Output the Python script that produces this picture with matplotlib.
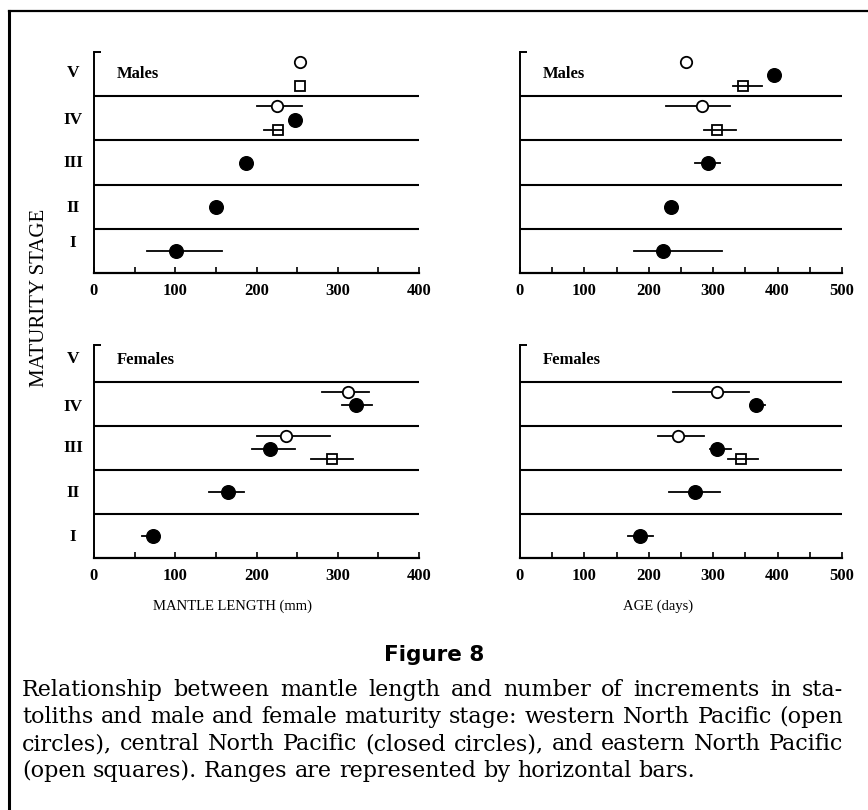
import matplotlib
matplotlib.use("Agg")
import matplotlib.pyplot as plt
from matplotlib.lines import Line2D
from matplotlib.ticker import MultipleLocator, FixedLocator
import matplotlib.transforms as mtransforms

# stages: 1=I ... 5=V ; ranges given as (lo, hi), None where no bar
stage_names = ['I', 'II', 'III', 'IV', 'V']

# mantle length (mm), males
ml_m_west_stage = [5, 4]
ml_m_west_val = [253, 225]
ml_m_west_rng = [None, (200, 256)]
ml_m_cent_stage = [4, 3, 2, 1]
ml_m_cent_val = [247, 187, 150, 101]
ml_m_cent_rng = [None, None, None, (65, 157)]
ml_m_east_stage = [5, 4]
ml_m_east_val = [253, 226]
ml_m_east_rng = [None, (209, 231)]

# age (days), males
age_m_west_stage = [5, 4]
age_m_west_val = [257, 282]
age_m_west_rng = [None, (226, 326)]
age_m_cent_stage = [5, 3, 2, 1]
age_m_cent_val = [394, 292, 234, 222]
age_m_cent_rng = [None, (272, 310), None, (177, 314)]
age_m_east_stage = [5, 4]
age_m_east_val = [347, 306]
age_m_east_rng = [(330, 375), (285, 335)]

# mantle length (mm), females
ml_f_west_stage = [4, 3]
ml_f_west_val = [312, 236]
ml_f_west_rng = [(281, 338), (200, 290)]
ml_f_cent_stage = [4, 3, 2, 1]
ml_f_cent_val = [322, 217, 165, 73]
ml_f_cent_rng = [(305, 342), (195, 247), (141, 185), (59, 77)]
ml_f_east_stage = [3]
ml_f_east_val = [293]
ml_f_east_rng = [(267, 319)]

# age (days), females
age_f_west_stage = [4, 3]
age_f_west_val = [306, 246]
age_f_west_rng = [(238, 356), (215, 285)]
age_f_cent_stage = [4, 3, 2, 1]
age_f_cent_val = [366, 306, 271, 186]
age_f_cent_rng = [(360, 381), (295, 327), (232, 310), (167, 207)]
age_f_east_stage = [3]
age_f_east_val = [343]
age_f_east_rng = [(323, 370)]

caption = [
    "Relationship between mantle length and number of increments in sta-",
    "toliths and male and female maturity stage: western North Pacific (open",
    "circles), central North Pacific (closed circles), and eastern North Pacific",
    "(open squares). Ranges are represented by horizontal bars.",
]

W, H = 868, 810
fig = plt.figure(figsize=(W / 100, H / 100), dpi=100)

serif = 'Liberation Serif'

# outer frame (cropped on right / bottom)
fig.add_artist(Line2D([9 / W, 9 / W], [0, 1 - 11 / H], transform=fig.transFigure,
                      color='black', lw=2.2))
fig.add_artist(Line2D([9 / W, 1], [1 - 11 / H, 1 - 11 / H], transform=fig.transFigure,
                      color='black', lw=1.6))

offsets = {'west': 0.77, 'cent': 0.47, 'east': 0.24}


def panel(rect, xmax, ymax, label, series, ylab_pos):
    ax = fig.add_axes(rect)
    ax.set_xlim(0, xmax)
    ax.set_ylim(0, ymax)
    for s in ['top', 'right']:
        ax.spines[s].set_visible(False)
    ax.spines['left'].set_linewidth(1.4)
    ax.spines['bottom'].set_linewidth(1.6)
    for yy in range(1, 5):
        ax.axhline(yy, color='black', lw=1.5)

    # how many series in each stage band
    counts = {}
    for key, st, val, rng in series:
        for s in st:
            counts[s] = counts.get(s, 0) + 1

    for key, st, val, rng in series:
        for s, v, r in zip(st, val, rng):
            y = s - 1 + (0.5 if counts[s] == 1 else offsets[key])
            if r is not None:
                ax.plot([r[0], r[1]], [y, y], color='black', lw=1.3, zorder=2)
            if key == 'west':
                ax.plot(v, y, 'o', ms=8.2, mfc='white', mec='black', mew=1.3, zorder=3)
            elif key == 'cent':
                ax.plot(v, y, 'o', ms=9.8, mfc='black', mec='black', zorder=3)
            else:
                ax.plot(v, y, 's', ms=7.2, mfc='none', mec='black', mew=1.3, zorder=3)

    ax.xaxis.set_major_locator(MultipleLocator(100))
    ax.xaxis.set_minor_locator(MultipleLocator(50))
    ax.tick_params(axis='x', which='both', direction='in', length=4, width=1.2, pad=7)
    for t in ax.get_xticklabels():
        t.set_fontfamily(serif)
        t.set_fontweight('bold')
        t.set_fontsize(12)

    ax.yaxis.set_major_locator(FixedLocator([]))
    ax.yaxis.set_minor_locator(FixedLocator([ymax]))
    ax.tick_params(axis='y', which='minor', direction='in', length=5, width=1.4)
    if ylab_pos is not None:
        tr = mtransforms.blended_transform_factory(ax.transAxes, ax.transData)
        for name, yp in zip(stage_names, ylab_pos):
            ax.text(-21 / (rect[2] * W), yp, name, transform=tr, ha='center', va='center',
                    fontfamily=serif, fontweight='bold', fontsize=12.5)

    ax.text(0.07, 4.5, label, fontfamily=serif, fontweight='bold', fontsize=12,
            transform=ax.get_yaxis_transform(), va='center', ha='left')
    return ax


panel([94 / W, 1 - 273 / H, 325 / W, 221 / H], 400, 5, 'Males',
      [('west', ml_m_west_stage, ml_m_west_val, ml_m_west_rng),
       ('cent', ml_m_cent_stage, ml_m_cent_val, ml_m_cent_rng),
       ('east', ml_m_east_stage, ml_m_east_val, ml_m_east_rng)],
      [0.68, 1.47, 2.49, 3.46, 4.52])
panel([520 / W, 1 - 273 / H, 322 / W, 221 / H], 500, 5, 'Males',
      [('west', age_m_west_stage, age_m_west_val, age_m_west_rng),
       ('cent', age_m_cent_stage, age_m_cent_val, age_m_cent_rng),
       ('east', age_m_east_stage, age_m_east_val, age_m_east_rng)], None)
panel([94 / W, 1 - 558 / H, 325 / W, 213 / H], 400, 4.83, 'Females',
      [('west', ml_f_west_stage, ml_f_west_val, ml_f_west_rng),
       ('cent', ml_f_cent_stage, ml_f_cent_val, ml_f_cent_rng),
       ('east', ml_f_east_stage, ml_f_east_val, ml_f_east_rng)],
      [0.48, 1.47, 2.49, 3.42, 4.51])
panel([520 / W, 1 - 558 / H, 322 / W, 213 / H], 500, 4.83, 'Females',
      [('west', age_f_west_stage, age_f_west_val, age_f_west_rng),
       ('cent', age_f_cent_stage, age_f_cent_val, age_f_cent_rng),
       ('east', age_f_east_stage, age_f_east_val, age_f_east_rng)], None)

fig.text(40 / W, 1 - 298 / H, 'MATURITY STAGE', rotation=90, ha='center', va='center',
         fontfamily=serif, fontsize=15)
fig.text(233 / W, 1 - 606 / H, 'MANTLE LENGTH (mm)', ha='center', va='center',
         fontfamily=serif, fontsize=10.5)
fig.text(658 / W, 1 - 606 / H, 'AGE (days)', ha='center', va='center',
         fontfamily=serif, fontsize=10.5)

fig.text(434 / W, 1 - 655 / H, 'Figure 8', ha='center', va='center',
         fontfamily='DejaVu Sans', fontweight='bold', fontsize=15.5)

# caption, justified between x0 and x1 (last line left aligned)
renderer = fig.canvas.get_renderer()
x0, x1 = 22, 843
cap_fs = 16
for i, line in enumerate(caption):
    ypos = 1 - (690 + 27 * i) / H
    words = line.split(' ')
    items = [fig.text(0, ypos, w, ha='left', va='center', fontfamily='DejaVu Serif',
                      fontsize=cap_fs) for w in words]
    widths = [t.get_window_extent(renderer).width for t in items]
    if i < len(caption) - 1:
        gap = (x1 - x0 - sum(widths)) / (len(words) - 1)
    else:
        gap = 0.32 * cap_fs * 100 / 72
    x = x0
    for t, w in zip(items, widths):
        t.set_x(x / W)
        x += w + gap

fig.savefig('out.png', dpi=100)
